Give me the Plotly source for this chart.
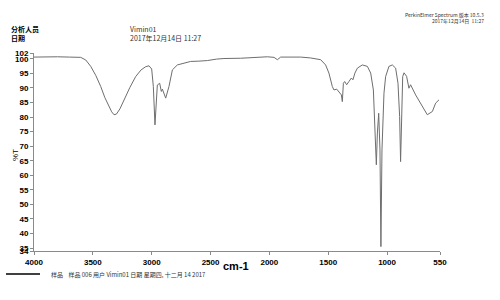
import plotly.graph_objects as go

# Spectrum data (wavenumber cm-1, %T)
wavenumber = [4000, 3900, 3800, 3700, 3603, 3560, 3518, 3475, 3433, 3398, 3363, 3340, 3320,
              3300, 3270, 3235, 3185, 3136, 3090, 3051, 3023, 3000, 2986, 2972, 2952, 2932,
              2918, 2909, 2881, 2853, 2824, 2782, 2739, 2669, 2600, 2527, 2450, 2386, 2244,
              2102, 2017, 1960, 1932, 1904, 1820, 1734, 1650, 1564, 1522, 1494, 1465, 1451,
              1428, 1409, 1388, 1380, 1371, 1360, 1343, 1324, 1303, 1290, 1273, 1252, 1210,
              1167, 1139, 1116, 1103, 1091, 1082, 1071, 1060, 1052, 1043, 1026, 1012, 984,
              955, 927, 907, 893, 885, 876, 867, 856, 834, 814, 800, 757, 700, 658, 615,
              587, 559]
transmittance = [100.6, 100.7, 100.7, 100.6, 100.5, 99.6, 97.4, 94.3, 90.5, 86.7, 83.6, 81.8,
                 80.8, 81.0, 82.8, 85.9, 90.2, 93.9, 96.2, 97.3, 97.6, 96.5, 90.5, 77.3, 91.0,
                 91.6, 88.8, 89.6, 86.5, 90.5, 96.2, 97.9, 98.3, 99.1, 99.2, 99.4, 99.9, 100.1,
                 100.2, 100.6, 100.7, 100.5, 99.7, 100.6, 100.6, 100.6, 100.3, 99.7, 97.9, 95.1,
                 90.5, 89.3, 89.6, 88.8, 87.6, 85.3, 91.6, 92.2, 91.1, 92.2, 93.4, 92.8, 95.1,
                 96.8, 97.9, 97.4, 95.1, 89.3, 74.5, 63.6, 74.5, 81.3, 68.7, 35.5, 68.7, 88.2,
                 93.9, 97.4, 97.9, 96.8, 91.6, 80.2, 64.7, 80.2, 93.9, 95.2, 94.0, 89.9, 91.1,
                 87.6, 83.6, 80.8, 81.9, 84.8, 85.9]

x_ticks = [4000, 3500, 3000, 2500, 2000, 1500, 1000, 550]
y_ticks = [34, 35, 40, 45, 50, 55, 60, 65, 70, 75, 80, 85, 90, 95, 100, 102]

FONT = "Liberation Sans, Arial, Noto Sans CJK SC"
CJK = "Noto Sans CJK SC, Liberation Sans"

fig = go.Figure()
fig.add_trace(go.Scatter(x=wavenumber, y=transmittance, mode="lines",
                         line=dict(color="#6e6e6e", width=1), showlegend=False,
                         name="样品 006"))

axis_common = dict(showline=True, linecolor="#8a8a8a", linewidth=1, ticks="outside",
                   ticklen=3, tickcolor="#8a8a8a", showgrid=False, zeroline=False,
                   tickfont=dict(family=FONT, size=8, color="black", weight="bold"))

fig.update_layout(
    width=500, height=300,
    margin=dict(l=34, r=60, t=53, b=49),
    paper_bgcolor="white", plot_bgcolor="white",
    xaxis=dict(range=[4000, 550], tickvals=x_ticks, ticktext=[str(v) for v in x_ticks],
               **axis_common),
    yaxis=dict(range=[34, 102], tickvals=y_ticks, ticktext=[str(v) for v in y_ticks],
               **axis_common),
)

ann = [
    dict(text="分析人员", x=9, y=29, font=dict(family=CJK, size=7, color="black", weight="bold")),
    dict(text="日期", x=9, y=37.5, font=dict(family=CJK, size=7, color="black", weight="bold")),
    dict(text="Vimin01", x=128, y=29, font=dict(family=CJK, size=7, color="#333")),
    dict(text="2017年12月14日 11:27", x=128, y=37.5, font=dict(family=CJK, size=7, color="#333")),
    dict(text="样品    样品 006 用户 Vimin01 日期 星期四, 十二月 14 2017", x=49, y=274,
         font=dict(family=CJK, size=6, color="#333")),
]
annotations = []
for a in ann:
    annotations.append(dict(text=a["text"], x=a["x"] / 500, y=1 - a["y"] / 300,
                            xref="paper", yref="paper", xanchor="left", yanchor="middle",
                            showarrow=False, font=a["font"]))
# fix paper coordinates: paper spans plot area, so convert from pixels properly
pl, pr, pt, pb = 34, 60, 53, 49
pw, ph = 500 - pl - pr, 300 - pt - pb

def px(x):
    return (x - pl) / pw

def py(y):
    return 1 - (y - pt) / ph

annotations = []
for a in ann:
    annotations.append(dict(text=a["text"], x=px(a["x"]), y=py(a["y"]),
                            xref="paper", yref="paper", xanchor="left", yanchor="middle",
                            showarrow=False, font=a["font"]))
annotations += [
    dict(text="PerkinElmer Spectrum 版本 10.5.3", x=px(486), y=py(15.5), xref="paper",
         yref="paper", xanchor="right", yanchor="middle", showarrow=False,
         font=dict(family=CJK, size=5, color="#333")),
    dict(text="2017年12月14日  11:27", x=px(486), y=py(21), xref="paper",
         yref="paper", xanchor="right", yanchor="middle", showarrow=False,
         font=dict(family=CJK, size=5, color="#333")),
    dict(text="cm-1", x=px(236), y=py(266), xref="paper", yref="paper",
         xanchor="center", yanchor="middle", showarrow=False,
         font=dict(family=FONT, size=11, color="black", weight="bold")),
    dict(text="%T", x=px(15), y=py(155), xref="paper", yref="paper",
         xanchor="center", yanchor="middle", showarrow=False, textangle=-90,
         font=dict(family=FONT, size=8, color="black")),
]
fig.update_layout(annotations=annotations)
fig.add_shape(type="line", xref="paper", yref="paper", x0=px(6), x1=px(40),
              y0=py(274), y1=py(274), line=dict(color="black", width=1.5))

fig.write_html("out.html")
